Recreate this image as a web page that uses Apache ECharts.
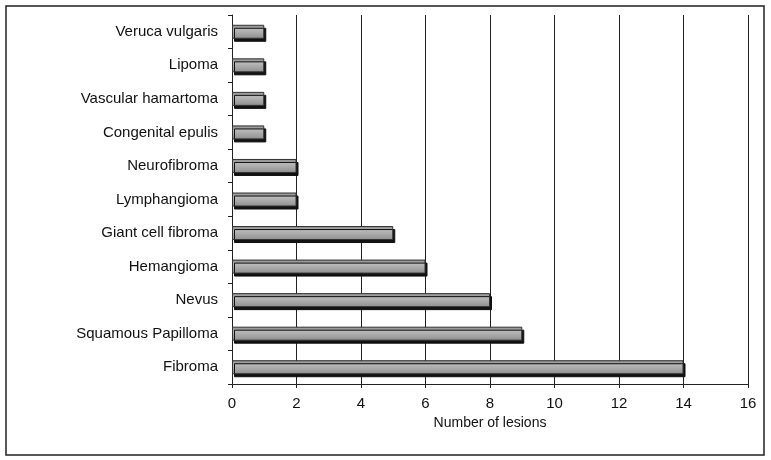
<!DOCTYPE html>
<html><head><meta charset="utf-8">
<script src="https://cdn.jsdelivr.net/npm/echarts@6/dist/echarts.min.js"></script>
<style>body{margin:0;background:#fff}#c{width:771px;height:460px}</style>
</head><body><div id="c"></div>
<script>
const lesions = ['Fibroma', 'Squamous Papilloma', 'Nevus', 'Hemangioma', 'Giant cell fibroma', 'Lymphangioma',
    'Neurofibroma', 'Congenital epulis', 'Vascular hamartoma', 'Lipoma', 'Veruca vulgaris'];
const counts = [14, 9, 8, 6, 5, 2, 2, 1, 1, 1, 1];

const chart = echarts.init(document.getElementById('c'));
chart.setOption({
    animation: false,
    graphic: [{
        type: 'rect', shape: {x: 6, y: 6, width: 758, height: 449},
        style: {fill: 'none', stroke: '#222', lineWidth: 1.5}
    }],
    grid: {left: 232, right: 23, top: 15, bottom: 76},
    xAxis: {
        type: 'value', min: 0, max: 16, interval: 2,
        name: 'Number of lesions', nameLocation: 'middle', nameGap: 30,
        nameTextStyle: {fontFamily: 'Liberation Sans', fontSize: 14, color: '#111'},
        axisLine: {show: true, lineStyle: {color: '#222'}},
        axisTick: {show: true, length: 4, lineStyle: {color: '#222'}},
        axisLabel: {fontFamily: 'Liberation Sans', fontSize: 15, color: '#111', margin: 12},
        splitLine: {show: true, lineStyle: {color: '#222', width: 1}}
    },
    yAxis: {
        type: 'category', data: lesions,
        axisLine: {lineStyle: {color: '#222'}},
        axisTick: {show: true, length: 4, lineStyle: {color: '#222'}},
        axisLabel: {fontFamily: 'Liberation Sans', fontSize: 15, color: '#111', margin: 14}
    },
    series: [{
        type: 'bar', data: counts, barWidth: 14,
        itemStyle: {
            color: new echarts.graphic.LinearGradient(0, 0, 0, 1, [
                {offset: 0, color: '#8a8a8a'}, {offset: 0.35, color: '#b8b8b8'}, {offset: 1, color: '#8e8e8e'}
            ]),
            borderColor: '#333', borderWidth: 1,
            shadowColor: '#111', shadowOffsetX: 2, shadowOffsetY: 3, shadowBlur: 0
        }
    }]
});
</script></body></html>
